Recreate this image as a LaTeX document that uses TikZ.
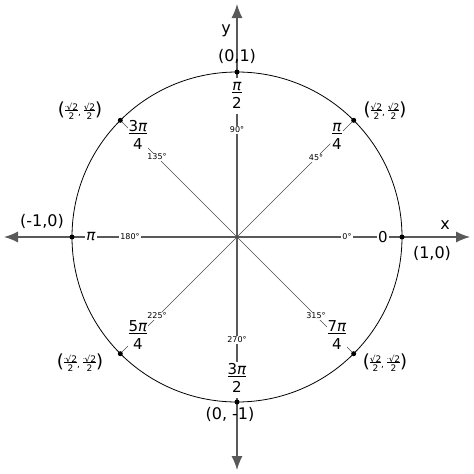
\documentclass[tikz,border=0pt]{standalone}
\usetikzlibrary{arrows.meta}
\usepackage{fontspec}
\setmainfont{DejaVu Sans}
\newcommand\fr[2]{\begin{tabular}{@{}c@{}}#1\\[-3pt]\hline\rule{0pt}{1.0em}#2\end{tabular}}
\newcommand\pii{\textit{π}}
\newcommand\sq{√2}
\begin{document}
\begin{tikzpicture}[x=1pt,y=-1pt,
  ax/.style={draw=black!65,line width=1.2pt},
  rad/.style={draw=black!70,line width=0.5pt},
  deg/.style={fill=white,inner sep=1pt,font=\fontsize{8}{9}\selectfont},
  frc/.style={fill=white,inner sep=1pt,font=\fontsize{15}{16}\selectfont,
     execute at begin node=\setlength{\arrayrulewidth}{1pt}\setlength{\tabcolsep}{0pt}},
  crd/.style={font=\fontsize{16}{18}\selectfont,inner sep=0pt},
  scrd/.style={font=\fontsize{9}{10}\selectfont,inner sep=0pt,
     execute at begin node=\setlength{\tabcolsep}{0pt}},
  par/.style={font=\fontsize{18}{18}\selectfont},
  dot/.style={circle,fill=black,inner sep=0pt,minimum size=5pt}]
\useasboundingbox (0,0) rectangle (474,474);
\coordinate (O) at (237,237);
\coordinate (L) at (4,237); \coordinate (R) at (470,237);
\coordinate (T) at (237,4); \coordinate (B) at (237,470);
\draw[ax,-{Latex[length=14pt,width=11pt]}] (O) -- (R);
\draw[ax,-{Latex[length=14pt,width=11pt]}] (O) -- (L);
\draw[ax,-{Latex[length=14pt,width=11pt]}] (O) -- (T);
\draw[ax,-{Latex[length=14pt,width=11pt]}] (O) -- (B);
\foreach \a in {45,135,225,315}
  \draw[rad] (O) -- ++(\a:-132);
\draw[line width=0.8pt] (O) circle[radius=165];
% points
\node[dot] (p0) at (402,237) {};
\node[dot] (p90) at (237,72) {};
\node[dot] (p180) at (72,237) {};
\node[dot] (p270) at (237,402) {};
\node[dot] (p45) at (353.7,120.3) {};
\node[dot] (p135) at (120.3,120.3) {};
\node[dot] (p225) at (120.3,353.7) {};
\node[dot] (p315) at (353.7,353.7) {};
\draw[rad] (p45) -- (339,135); \draw[rad] (p135) -- (135,135);
\draw[rad] (p225) -- (135,339); \draw[rad] (p315) -- (339,339);
% degrees
\node[deg] (d0) at (347,237) {0°};
\node[deg] (d90) at (237,130) {90°};
\node[deg] (d180) at (130,237) {180°};
\node[deg] (d270) at (237,340) {270°};
\node[deg] (d45) at (316,158) {45°};
\node[deg] (d135) at (157,157) {135°};
\node[deg] (d225) at (157,316) {225°};
\node[deg] (d315) at (316,316) {315°};
% fractions
\node[frc] (f0) at (383,237) {0};
\node[frc] (f90) at (237,96) {\fr{\pii}{2}};
\node[frc] (f180) at (91,237) {\pii};
\node[frc] (f270) at (237,380) {\fr{3\pii}{2}};
\node[frc] (f45) at (337,137) {\fr{\pii}{4}};
\node[frc] (f135) at (138,137) {\fr{3\pii}{4}};
\node[frc] (f225) at (138,337) {\fr{5\pii}{4}};
\node[frc] (f315) at (337,337) {\fr{7\pii}{4}};
% coordinates
\node[crd] (c90) at (237,56) {(0,1)};
\node[crd] (c0) at (432,253) {(1,0)};
\node[crd] (c180) at (42,221) {(-1,0)};
\node[crd] (c270) at (230,414) {(0, -1)};
\node[crd] (x) at (445,225) {x};
\node[crd] (y) at (226,31) {y};
\node[scrd] (c45) at (385,112) {{\fontsize{18}{18}\selectfont(}\fr{\sq}{2}, \fr{\sq}{2}{\fontsize{18}{18}\selectfont)}};
\node[scrd] (c135) at (80,112) {{\fontsize{18}{18}\selectfont(}\fr{\raisebox{2pt}{\tiny-}\sq}{2}, \fr{\sq}{2}{\fontsize{18}{18}\selectfont)}};
\node[scrd] (c225) at (80,364) {{\fontsize{18}{18}\selectfont(}\fr{\raisebox{2pt}{\tiny-}\sq}{2}, \fr{\raisebox{2pt}{\tiny-}\sq}{2}{\fontsize{18}{18}\selectfont)}};
\node[scrd] (c315) at (385,364) {{\fontsize{18}{18}\selectfont(}\fr{\sq}{2}, \fr{\raisebox{2pt}{\tiny-}\sq}{2}{\fontsize{18}{18}\selectfont)}};
\end{tikzpicture}
\end{document}
